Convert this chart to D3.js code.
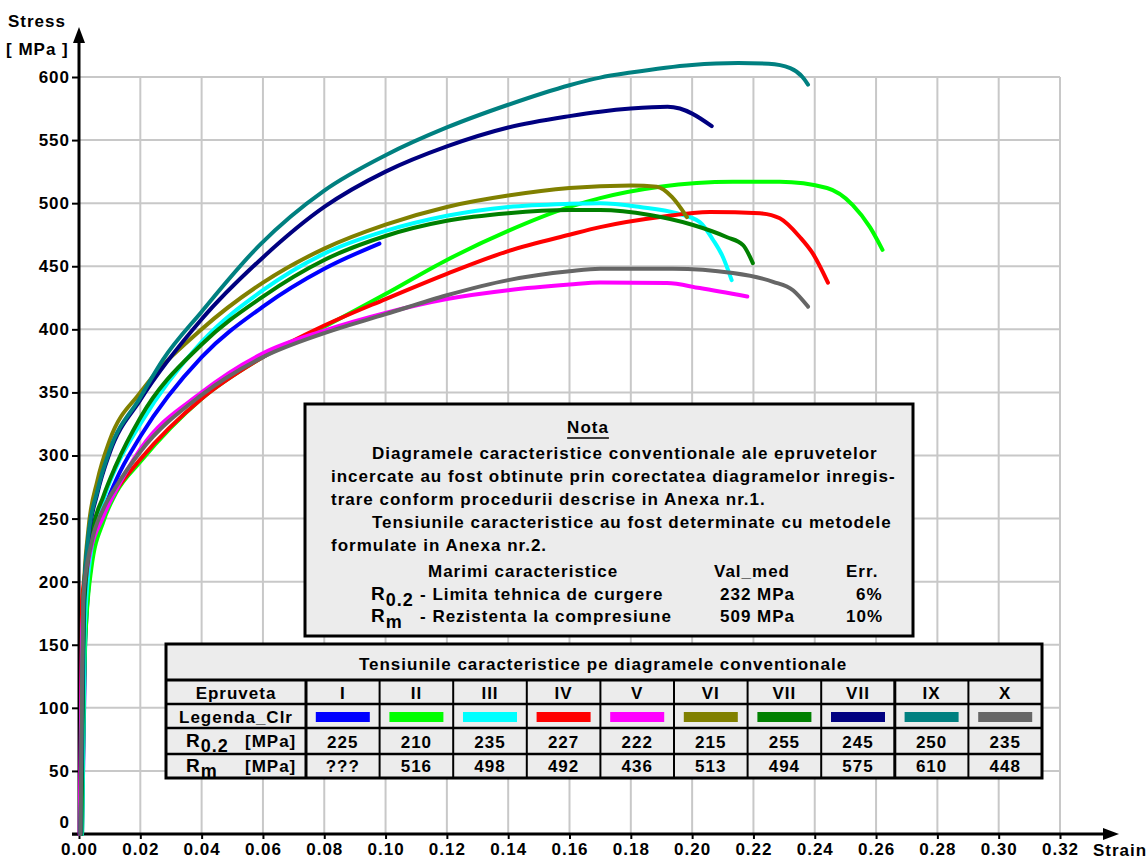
<!DOCTYPE html>
<html><head><meta charset="utf-8">
<script src="https://cdn.jsdelivr.net/npm/d3@7"></script>
<style>
html,body{margin:0;padding:0;background:#fff;}
svg{display:block;}
text{font-family:"Liberation Sans",Arial,sans-serif;font-weight:bold;fill:#000;letter-spacing:1px;}
</style></head>
<body>
<svg id="chart" width="1148" height="859"></svg>
<script>
// ---------- DATA ----------
const xTicks = [0,0.02,0.04,0.06,0.08,0.10,0.12,0.14,0.16,0.18,0.20,0.22,0.24,0.26,0.28,0.30,0.32];
const yTicks = [0,50,100,150,200,250,300,350,400,450,500,550,600];

const epruvete = ["I","II","III","IV","V","VI","VII","VII","IX","X"];
const colors   = ["#0000ff","#00ff00","#00ffff","#ff0000","#ff00ff","#808000","#008000","#000080","#008080","#666666"];
const r02      = [225,210,235,227,222,215,255,245,250,235];
const rm       = ["???",516,498,492,436,513,494,575,610,448];

// strain / stress per specimen
const strainI   = [0.001,0.002,0.004,0.008,0.012,0.02,0.04,0.06,0.08,0.098];
const stressI   = [0,150,215,255,280,315,378,418,448,468];
const strainII  = [0.001,0.002,0.004,0.008,0.012,0.02,0.04,0.06,0.08,0.10,0.12,0.14,0.16,0.17,0.1895,0.2133,0.2286,0.244,0.2524,0.258,0.2621];
const stressII  = [0,150,210,248,270,295,345,378,402,428,455,478,497,504,513,517,517,512,498.5,481,463];
const strainIII = [0.001,0.002,0.004,0.008,0.012,0.02,0.04,0.06,0.08,0.10,0.12,0.14,0.16,0.17,0.183,0.195,0.2025,0.2068,0.21,0.2129];
const stressIII = [0,170,225,265,290,325,390,431,460,478,490,497,499.5,500,497,492,485,471,457.5,439];
const strainIV  = [0.0005,0.001,0.003,0.008,0.012,0.02,0.04,0.06,0.08,0.10,0.12,0.14,0.16,0.17,0.1895,0.2058,0.2221,0.2286,0.2352,0.2394,0.2443];
const stressIV  = [0,185,220,255,272,297,345,378,403,424,444,462,475,481,489,493,492,488,473,460,437];
const strainV   = [0.0002,0.001,0.003,0.008,0.012,0.02,0.04,0.06,0.08,0.10,0.12,0.14,0.16,0.17,0.1918,0.2025,0.218];
const stressV   = [0,160,215,252,272,305,350,381,399,413,424,431,435.5,437.2,436.7,432.7,426];
const strainVI  = [0.0005,0.0015,0.003,0.006,0.01,0.02,0.04,0.06,0.08,0.10,0.12,0.14,0.16,0.18,0.1885,0.1934,0.1983];
const stressVI  = [0,190,240,280,312,350,400,437,464,483,497,506,512,514,513,505,489];
const strainVII = [0.0008,0.0018,0.004,0.008,0.012,0.02,0.04,0.06,0.08,0.10,0.12,0.14,0.16,0.17,0.1862,0.2003,0.2114,0.2166,0.2198];
const stressVII = [0,185,235,268,292,330,388,426,455,474,486,492,494.5,494.5,490.6,482.7,473,466.8,452.5];
const strainVIII= [0.0005,0.0015,0.003,0.006,0.01,0.02,0.04,0.06,0.08,0.10,0.12,0.14,0.16,0.17,0.18,0.192,0.196,0.20,0.2064];
const stressVIII= [0,180,232,270,302,344,408,457,497,525,545,560,569,572.5,575,576.5,575,571,561];
const strainIX  = [0.0005,0.0015,0.003,0.006,0.01,0.02,0.0274,0.04,0.059,0.08,0.10,0.12,0.14,0.16,0.17,0.18,0.20,0.215,0.225,0.232,0.236,0.2378];
const stressIX  = [0,185,235,272,304,346,376,414,467,510,538,560,578,593.5,599.5,603.5,609.5,611,610.5,607,600,594];
const strainX   = [0.0005,0.0015,0.004,0.008,0.012,0.02,0.04,0.06,0.08,0.10,0.12,0.14,0.16,0.17,0.1937,0.2133,0.2264,0.2329,0.2378];
const stressX   = [0,190,230,258,275,303,348,378,397,412,427,439,446,448,448,444.6,437.7,431,418];

const strains  = [strainI,strainII,strainIII,strainIV,strainV,strainVI,strainVII,strainVIII,strainIX,strainX];
const stresses = [stressI,stressII,stressIII,stressIV,stressV,stressVI,stressVII,stressVIII,stressIX,stressX];

const noteLines = [
  {t:"Diagramele caracteristice conventionale ale epruvetelor", indent:true},
  {t:"incercate au fost obtinute prin corectatea diagramelor inregis-", indent:false},
  {t:"trare conform procedurii descrise in Anexa nr.1.", indent:false},
  {t:"Tensiunile caracteristice au fost determinate cu metodele", indent:true},
  {t:"formulate in Anexa nr.2.", indent:false}
];

// ---------- DRAW ----------
const svg = d3.select("#chart");
const x = d3.scaleLinear().domain([0,0.32]).range([79,1060]);
const y = d3.scaleLinear().domain([0,600]).range([834,77]);

// grid
const grid = svg.append("g").attr("stroke","#c8c8c8").attr("stroke-width",2);
grid.selectAll("line.v").data(xTicks.slice(1)).join("line")
  .attr("x1",d=>x(d)).attr("x2",d=>x(d)).attr("y1",y(600)).attr("y2",y(0));
grid.selectAll("line.h").data(yTicks.slice(1)).join("line")
  .attr("x1",x(0)).attr("x2",x(0.32)).attr("y1",d=>y(d)).attr("y2",d=>y(d));

// axes
const yAxis = svg.append("g").attr("transform",`translate(${x(0)},0)`)
  .call(d3.axisLeft(y).tickValues(yTicks).tickSize(7).tickPadding(2).tickFormat(d3.format("d")));
yAxis.select(".domain").remove();
yAxis.selectAll(".tick line").attr("stroke","#000").attr("stroke-width",2);
yAxis.selectAll(".tick text").attr("font-size",17).attr("font-weight","bold")
  .attr("font-family","Liberation Sans, Arial, sans-serif").attr("fill","#000");
yAxis.selectAll(".tick").filter(d=>d===0).select("text").attr("dy","-0.4em");

const xAxis = svg.append("g").attr("transform",`translate(0,${y(0)})`)
  .call(d3.axisBottom(x).tickValues(xTicks).tickSize(5).tickPadding(4).tickFormat(d3.format(".2f")));
xAxis.select(".domain").remove();
xAxis.selectAll(".tick line").attr("stroke","#000").attr("stroke-width",2);
xAxis.selectAll(".tick text").attr("font-size",17).attr("font-weight","bold")
  .attr("font-family","Liberation Sans, Arial, sans-serif").attr("fill","#000");

// axis lines with arrows
svg.append("line").attr("x1",x(0)).attr("x2",x(0)).attr("y1",y(0)+1).attr("y2",38)
  .attr("stroke","#000").attr("stroke-width",3);
svg.append("path").attr("d",`M${x(0)},27 L${x(0)-6},43 L${x(0)+6},43 Z`).attr("fill","#000");
svg.append("line").attr("x1",x(0)-7).attr("x2",1108).attr("y1",y(0)).attr("y2",y(0))
  .attr("stroke","#000").attr("stroke-width",3);
svg.append("path").attr("d",`M1119,${y(0)} L1103,${y(0)-6} L1103,${y(0)+6} Z`).attr("fill","#000");

svg.append("text").attr("x",8).attr("y",27).attr("font-size",17).text("Stress");
svg.append("text").attr("x",6).attr("y",55).attr("font-size",17).text("[ MPa ]");
svg.append("text").attr("x",1093).attr("y",856).attr("font-size",17).text("Strain");

// curves
const line = d3.line().x(d=>x(d[0])).y(d=>y(d[1])).curve(d3.curveMonotoneX);
strains.forEach((s,i)=>{
  const pts = s.map((v,j)=>[v,stresses[i][j]]);
  svg.append("path").datum(pts).attr("d",line)
    .attr("fill","none").attr("stroke",colors[i]).attr("stroke-width",4)
    .attr("stroke-linejoin","round").attr("stroke-linecap","round");
});

// note box
const nb = {x:305,y:404,w:608,h:232};
svg.append("rect").attr("x",nb.x).attr("y",nb.y).attr("width",nb.w).attr("height",nb.h)
  .attr("fill","#ececec").attr("stroke","#000").attr("stroke-width",3);
const nota = svg.append("text").attr("x",588).attr("y",433).attr("font-size",17).attr("text-anchor","middle").text("Nota");
const nbb = nota.node().getBBox();
svg.append("line").attr("x1",nbb.x).attr("x2",nbb.x+nbb.width).attr("y1",438).attr("y2",438).attr("stroke","#000").attr("stroke-width",1.5);
noteLines.forEach((l,i)=>{
  svg.append("text").attr("x",l.indent?372:331).attr("y",459+i*23).attr("font-size",17).text(l.t);
});
svg.append("text").attr("x",428).attr("y",577).attr("font-size",17).text("Marimi caracteristice");
svg.append("text").attr("x",714).attr("y",577).attr("font-size",17).text("Val_med");
svg.append("text").attr("x",846).attr("y",577).attr("font-size",17).text("Err.");
// R0.2 row
const r1 = svg.append("text").attr("x",371).attr("y",600).attr("font-size",19).attr("font-weight","normal");
r1.append("tspan").text("R");
r1.append("tspan").attr("dy",6).attr("font-size",18).attr("font-weight","bold").text("0.2");
svg.append("text").attr("x",420).attr("y",600).attr("font-size",17).text("- Limita tehnica de curgere");
svg.append("text").attr("x",720).attr("y",600).attr("font-size",17).text("232 MPa");
svg.append("text").attr("x",856).attr("y",600).attr("font-size",17).text("6%");
const r2 = svg.append("text").attr("x",371).attr("y",622).attr("font-size",19).attr("font-weight","normal");
r2.append("tspan").text("R");
r2.append("tspan").attr("dy",6).attr("font-size",18).attr("font-weight","bold").text("m");
svg.append("text").attr("x",420).attr("y",622).attr("font-size",17).text(" - Rezistenta la compresiune");
svg.append("text").attr("x",720).attr("y",622).attr("font-size",17).text("509 MPa");
svg.append("text").attr("x",846).attr("y",622).attr("font-size",17).text("10%");

// table
const tb = {x:166,y:644,w:876,h:134};
const firstW = 140;
const colW = (tb.w-firstW)/epruvete.length;
const rowY = [644,680,704,728,754,778];
const tg = svg.append("g");
tg.append("rect").attr("x",tb.x).attr("y",tb.y).attr("width",tb.w).attr("height",tb.h)
  .attr("fill","#ececec").attr("stroke","#000").attr("stroke-width",3);
rowY.slice(1,5).forEach(ry=>{
  tg.append("line").attr("x1",tb.x).attr("x2",tb.x+tb.w).attr("y1",ry).attr("y2",ry)
    .attr("stroke","#000").attr("stroke-width",ry===680?3:2.5);
});
const colX = d3.range(epruvete.length+1).map(i=>tb.x+firstW+i*colW);
colX.slice(0,epruvete.length).forEach((cx,i)=>{
  tg.append("line").attr("x1",cx).attr("x2",cx).attr("y1",680).attr("y2",778)
    .attr("stroke","#000").attr("stroke-width",(i===0||i===8)?3:2);
});
tg.append("text").attr("x",tb.x+tb.w/2-1).attr("y",670).attr("font-size",17).attr("text-anchor","middle")
  .text("Tensiunile caracteristice pe diagramele conventionale");
tg.append("text").attr("x",236).attr("y",699).attr("font-size",17).attr("text-anchor","middle").text("Epruveta");
tg.append("text").attr("x",236).attr("y",723).attr("font-size",17).attr("text-anchor","middle").text("Legenda_Clr");
const t1 = tg.append("text").attr("x",186).attr("y",747).attr("font-size",19).attr("font-weight","normal");
t1.append("tspan").text("R");
t1.append("tspan").attr("dy",5).attr("font-size",18).attr("font-weight","bold").text("0.2");
tg.append("text").attr("x",245).attr("y",747).attr("font-size",17).text("[MPa]");
const t2 = tg.append("text").attr("x",186).attr("y",772).attr("font-size",19).attr("font-weight","normal");
t2.append("tspan").text("R");
t2.append("tspan").attr("dy",5).attr("font-size",18).attr("font-weight","bold").text("m");
tg.append("text").attr("x",245).attr("y",772).attr("font-size",17).text("[MPa]");
epruvete.forEach((e,i)=>{
  const cx = colX[i]+colW/2;
  tg.append("text").attr("x",cx).attr("y",699).attr("font-size",17).attr("text-anchor","middle").text(e);
  tg.append("rect").attr("x",cx-27).attr("y",712).attr("width",54).attr("height",10).attr("fill",colors[i]);
  tg.append("text").attr("x",cx).attr("y",748).attr("font-size",17).attr("text-anchor","middle").text(r02[i]);
  tg.append("text").attr("x",cx).attr("y",772).attr("font-size",17).attr("text-anchor","middle").text(rm[i]);
});
</script>
</body></html>
